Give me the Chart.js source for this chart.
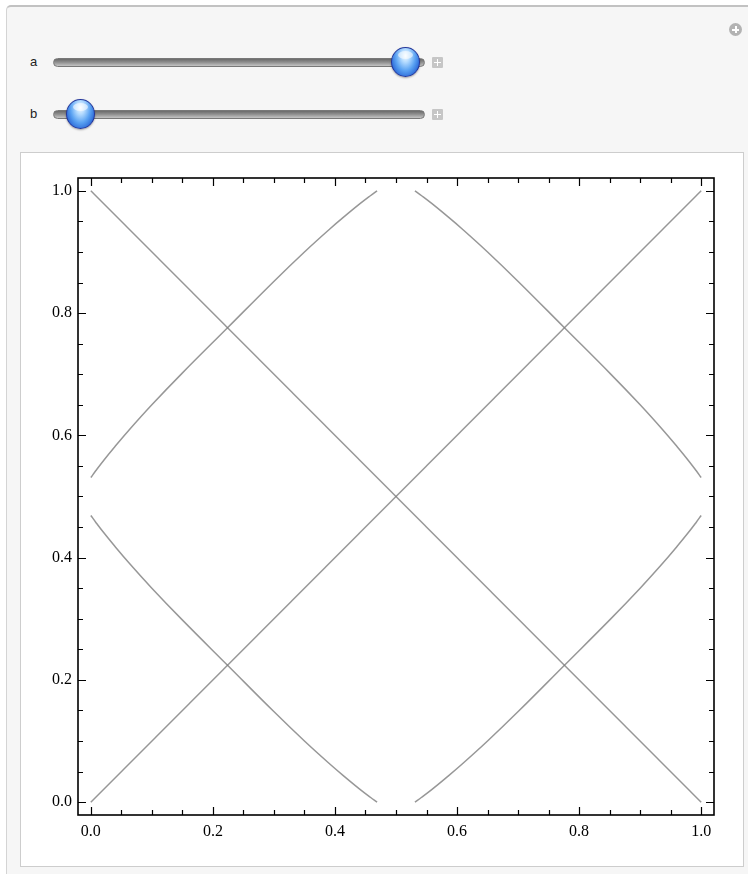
<!DOCTYPE html>
<html>
<head>
<meta charset="utf-8">
<script src="https://cdn.jsdelivr.net/npm/chart.js"></script>
<style>
html,body{margin:0;padding:0;background:#fff;width:748px;height:874px;overflow:hidden;font-family:"Liberation Sans",Arial,sans-serif;}
#panel{position:absolute;left:6px;top:5px;width:760px;height:890px;background:#f6f6f6;border-top:2px solid #c2c2c2;border-left:1px solid #d4d4d4;border-top-left-radius:5px;}
.lbl{position:absolute;font-size:13px;color:#222;line-height:14px;}
.track{position:absolute;left:53px;width:370px;height:7px;border-radius:5px;background:linear-gradient(#6a6a6a,#8e8e8e 45%,#c4c4c4);border:1px solid #787878;}
.thumb{position:absolute;width:27px;height:28px;border-radius:50%;
 background:radial-gradient(ellipse at 50% 28%,#f6fbff 0%,#b6dcff 22%,#5aa2f2 52%,#2c6ad8 78%,#1c3fa8 100%);
 border:1px solid #23369a;box-shadow:0 1px 2px rgba(0,0,0,.35);}
.thumb:after{content:"";position:absolute;left:6px;top:3px;width:15px;height:8px;border-radius:50%;background:rgba(255,255,255,.55);}
.pbtn{position:absolute;width:11px;height:11px;background:#c6c6c6;border-radius:1px;}
.pbtn:before{content:"";position:absolute;left:5px;top:2px;width:1px;height:7px;background:#fff;}
.pbtn:after{content:"";position:absolute;left:2px;top:5px;width:7px;height:1px;background:#fff;}
#pcirc{position:absolute;left:729px;top:23px;width:13px;height:13px;border-radius:50%;background:#b3b3b3;}
#pcirc:before{content:"";position:absolute;left:6px;top:3px;width:2px;height:7px;background:#fff;}
#pcirc:after{content:"";position:absolute;left:3px;top:6px;width:7px;height:2px;background:#fff;}
#box{position:absolute;left:20px;top:152px;width:722px;height:713px;background:#fff;border:1px solid #cdcdcd;}
#c{position:absolute;left:21px;top:153px;}
</style>
</head>
<body>
<div id="panel"></div>
<div id="pcirc"></div>
<div class="lbl" style="left:30px;top:55px;">a</div>
<div class="track" style="top:58px;"></div>
<div class="thumb" style="left:391px;top:47px;"></div>
<div class="pbtn" style="left:432px;top:57px;"></div>
<div class="lbl" style="left:30px;top:107px;">b</div>
<div class="track" style="top:110px;"></div>
<div class="thumb" style="left:66px;top:99px;"></div>
<div class="pbtn" style="left:432px;top:109px;"></div>
<div id="box"></div>
<canvas id="c" width="722" height="713"></canvas>
<script>
// ---- data ----
const tickLabels = [0.0, 0.2, 0.4, 0.6, 0.8, 1.0];
const minorTicks = [0.05,0.1,0.15,0.25,0.3,0.35,0.45,0.5,0.55,0.65,0.7,0.75,0.85,0.9,0.95];

const diagUpX = [0, 1];
const diagUpY = [0, 1];
const diagDownX = [0, 1];
const diagDownY = [1, 0];

const arcULx = [0, 0.008, 0.021, 0.039, 0.062, 0.100, 0.149, 0.224, 0.299, 0.350, 0.392, 0.419, 0.441, 0.458, 0.469];
const arcULy = [0.531, 0.542, 0.559, 0.581, 0.608, 0.650, 0.701, 0.776, 0.851, 0.900, 0.938, 0.961, 0.979, 0.992, 1.0];

const arcURx = [1, 0.992, 0.979, 0.961, 0.938, 0.900, 0.851, 0.776, 0.701, 0.650, 0.608, 0.581, 0.559, 0.542, 0.531];
const arcURy = [0.531, 0.542, 0.559, 0.581, 0.608, 0.650, 0.701, 0.776, 0.851, 0.900, 0.938, 0.961, 0.979, 0.992, 1.0];

const arcLLx = [0, 0.008, 0.021, 0.039, 0.062, 0.100, 0.149, 0.224, 0.299, 0.350, 0.392, 0.419, 0.441, 0.458, 0.469];
const arcLLy = [0.469, 0.458, 0.441, 0.419, 0.392, 0.350, 0.299, 0.224, 0.149, 0.100, 0.062, 0.039, 0.021, 0.008, 0];

const arcLRx = [1, 0.992, 0.979, 0.961, 0.938, 0.900, 0.851, 0.776, 0.701, 0.650, 0.608, 0.581, 0.559, 0.542, 0.531];
const arcLRy = [0.469, 0.458, 0.441, 0.419, 0.392, 0.350, 0.299, 0.224, 0.149, 0.100, 0.062, 0.039, 0.021, 0.008, 0];

const axisMin = -0.021, axisMax = 1.021;

// ---- build ----
function pts(xs, ys){ return xs.map((x,i)=>({x:x, y:ys[i]})); }
const lineColor = 'rgba(125,125,125,0.8)';
function ds(xs, ys, tension){
  return {data: pts(xs, ys), showLine:true, borderColor:lineColor, borderWidth:1.5,
          pointRadius:0, tension: tension, fill:false};
}

const framePlugin = {
  id:'frame',
  afterDatasetsDraw(chart){
    const {ctx, chartArea:{left,right,top,bottom}, scales:{x,y}} = chart;
    ctx.save();
    ctx.strokeStyle = '#000';
    ctx.lineWidth = 1.2;
    ctx.beginPath();
    const draw = (vals, len) => {
      vals.forEach(v => {
        const px = Math.round(x.getPixelForValue(v)) + 0.5;
        ctx.moveTo(px, bottom); ctx.lineTo(px, bottom - len);
        ctx.moveTo(px, top); ctx.lineTo(px, top + len);
        const py = Math.round(y.getPixelForValue(v)) + 0.5;
        ctx.moveTo(left, py); ctx.lineTo(left + len, py);
        ctx.moveTo(right, py); ctx.lineTo(right - len, py);
      });
    };
    draw(tickLabels, 8);
    draw(minorTicks, 5);
    ctx.stroke();
    ctx.lineWidth = 1.6;
    ctx.strokeRect(left, top, right - left, bottom - top);
    ctx.restore();
  }
};

const tickFont = {family:'"Liberation Serif","Times New Roman",serif', size:16};

new Chart(document.getElementById('c'), {
  type:'scatter',
  data:{datasets:[
    ds(diagUpX, diagUpY, 0),
    ds(diagDownX, diagDownY, 0),
    ds(arcULx, arcULy, 0.4),
    ds(arcURx, arcURy, 0.4),
    ds(arcLLx, arcLLy, 0.4),
    ds(arcLRx, arcLRy, 0.4)
  ]},
  options:{
    responsive:false, animation:false, devicePixelRatio:1,
    layout:{padding:{left:0, right:29, top:25, bottom:0}},
    plugins:{legend:{display:false}, tooltip:{enabled:false}},
    scales:{
      x:{type:'linear', min:axisMin, max:axisMax,
         grid:{display:false, drawTicks:false}, border:{display:false},
         afterBuildTicks:s=>{ s.ticks = tickLabels.map(v=>({value:v})); },
         afterFit:s=>{ s.height = 51; },
         ticks:{font:tickFont, color:'#000', padding:7, maxRotation:0, autoSkip:false,
                callback:v=>Number(v).toFixed(1)}},
      y:{type:'linear', min:axisMin, max:axisMax,
         grid:{display:false, drawTicks:false}, border:{display:false},
         afterBuildTicks:s=>{ s.ticks = tickLabels.map(v=>({value:v})); },
         afterFit:s=>{ s.width = 57; },
         ticks:{font:tickFont, color:'#000', padding:6, autoSkip:false,
                callback:v=>Number(v).toFixed(1)}}
    }
  },
  plugins:[framePlugin]
});
</script>
</body>
</html>
